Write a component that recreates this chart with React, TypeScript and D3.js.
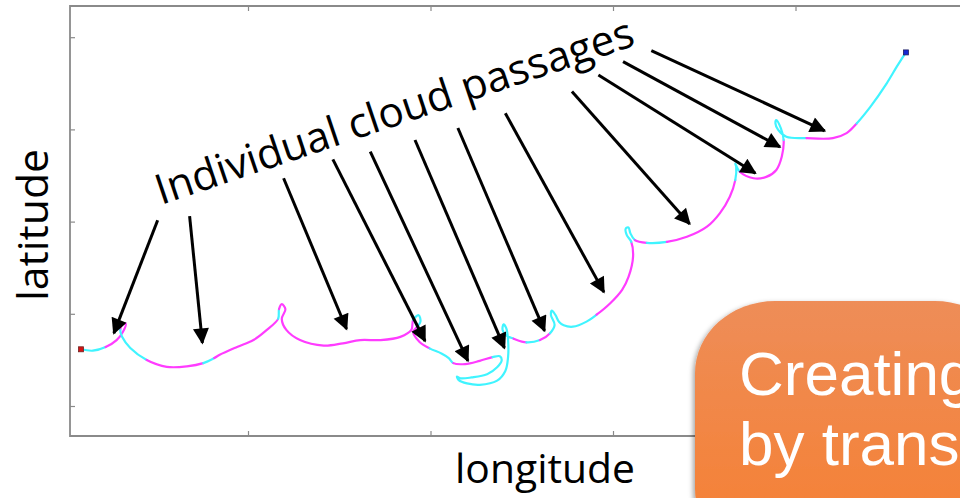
import * as d3 from "d3";
import React, { useEffect, useRef } from "react";

// flight track (degrees)
const trackLon = [
  -99.83, -99.7, -99.56, -99.44, -99.37, -99.34, -99.38, -99.4, -99.38, -99.29,
  -99.11, -98.89, -98.67, -98.49, -98.37, -98.31, -98.12, -97.94, -97.8, -97.67,
  -97.66, -97.63, -97.59, -97.63, -97.58, -97.43, -97.17, -96.96, -96.77, -96.55,
  -96.33, -96.21, -96.19, -96.13, -96.11, -96.15, -96.19, -96.12, -96.01, -95.88,
  -95.8, -95.75, -95.62, -95.46, -95.32, -95.24, -95.22, -95.27, -95.38, -95.55,
  -95.67, -95.71, -95.69, -95.6, -95.46, -95.27, -95.18, -95.15, -95.15, -95.17,
  -95.2, -95.21, -95.17, -95.09, -94.95, -94.8, -94.69, -94.64, -94.68, -94.67,
  -94.63, -94.59, -94.54, -94.44, -94.29, -94.18, -94.03, -93.9, -93.83, -93.78,
  -93.8, -93.85, -93.86, -93.83, -93.81, -93.76, -93.63, -93.41, -93.19, -92.97,
  -92.83, -92.72, -92.66, -92.65, -92.66, -92.61, -92.46, -92.32, -92.21, -92.15,
  -92.13, -92.16, -92.21, -92.22, -92.19, -92.1, -91.88, -91.59, -91.44, -91.33,
  -91.18, -91.0, -90.89, -90.79,
];
const trackLat = [
  31.23, 31.2, 31.28, 31.43, 31.61, 31.79, 31.76, 31.65, 31.5, 31.26,
  31.0, 30.85, 30.86, 30.93, 31.04, 31.11, 31.28, 31.43, 31.64, 31.89,
  32.1, 32.21, 32.1, 31.89, 31.65, 31.43, 31.31, 31.36, 31.43, 31.43,
  31.5, 31.65, 31.87, 31.97, 31.83, 31.71, 31.61, 31.39, 31.25, 31.14,
  31.04, 30.93, 30.91, 30.98, 31.06, 31.08, 30.99, 30.84, 30.69, 30.62,
  30.6, 30.64, 30.56, 30.49, 30.46, 30.55, 30.76, 31.06, 31.43, 31.69,
  31.77, 31.65, 31.53, 31.46, 31.38, 31.43, 31.58, 31.76, 31.97, 32.07,
  31.97, 31.82, 31.75, 31.72, 31.83, 31.98, 32.23, 32.52, 32.8, 33.24,
  33.56, 33.71, 33.85, 33.87, 33.75, 33.6, 33.54, 33.56, 33.67, 33.89,
  34.18, 34.54, 34.9, 35.19, 35.26, 35.08, 34.94, 34.97, 35.12, 35.41,
  35.77, 36.02, 36.2, 36.13, 35.99, 35.84, 35.81, 35.81, 35.92, 36.13,
  36.49, 37.0, 37.36, 37.67,
];
// 1 = in cloud (magenta), 0 = clear (cyan), for the segment starting at each point
const inCloud = [
  0, 0, 1, 1, 1, 1, 1, 0, 0, 0, 1, 1, 1, 0, 1, 1, 1, 1, 1, 0,
  1, 1, 1, 1, 1, 1, 1, 1, 1, 1, 1, 1, 0, 0, 0, 1, 1, 1, 0, 0,
  0, 1, 1, 1, 0, 0, 0, 0, 0, 0, 0, 0, 0, 0, 0, 0, 0, 0, 0, 0,
  0, 0, 0, 1, 0, 1, 0, 0, 0, 0, 0, 0, 0, 0, 0, 1, 1, 1, 1, 1,
  0, 0, 0, 0, 0, 1, 0, 1, 1, 1, 1, 1, 0, 0, 0, 1, 1, 1, 1, 1,
  0, 0, 0, 0, 0, 0, 1, 1, 1, 0, 0, 0, 0, 0,
];

// arrows: from the label to each cloud passage
const arrowFromLon = [-98.99, -98.64, -97.61, -97.07, -96.66, -96.17, -95.7, -95.18, -94.45, -94.16, -93.89, -93.58];
const arrowFromLat = [34.03, 34.12, 34.94, 35.35, 35.52, 35.77, 36.03, 36.35, 36.82, 37.18, 37.47, 37.71];
const arrowToLon = [-99.47, -98.5, -96.92, -96.06, -95.59, -95.19, -94.75, -94.1, -93.16, -92.44, -92.17, -91.68];
const arrowToLat = [31.58, 31.37, 31.67, 31.41, 30.98, 31.26, 31.63, 32.47, 33.95, 35.05, 35.62, 35.97];

const lonTicks = [-98, -96, -94, -92];
const latTicks = [30, 32, 34, 36, 38];

const W = 960;
const H = 498;
const frame = { left: 70, top: 6, bottom: 436, right: 1000 };

const x = d3.scaleLinear().domain([-100, -90]).range([65.5, 978]);
const y = d3.scaleLinear().domain([30, 38]).range([406, 37.2]);

const App = () => {
  const axRef = useRef(null);

  useEffect(() => {
    const g = d3.select(axRef.current);
    g.selectAll("*").remove();
    const blank = () => "";
    g.append("g")
      .attr("transform", `translate(0,${frame.bottom})`)
      .call(d3.axisBottom(x).tickValues(lonTicks).tickSize(-5).tickFormat(blank));
    g.append("g")
      .attr("transform", `translate(0,${frame.top})`)
      .call(d3.axisTop(x).tickValues(lonTicks).tickSize(-5).tickFormat(blank));
    g.append("g")
      .attr("transform", `translate(${frame.left},0)`)
      .call(d3.axisLeft(y).tickValues(latTicks).tickSize(-5).tickFormat(blank));
    g.selectAll(".domain").remove();
    g.selectAll(".tick line").attr("stroke", "#8a8a8a").attr("stroke-width", 1.2);
  }, []);

  const pts = trackLon.map((lo, i) => [x(lo), y(trackLat[i])]);
  const n = pts.length;

  // group segments into runs of the same state
  const runs = [];
  let start = 0;
  for (let i = 1; i < n - 1; i++) {
    if (inCloud[i] !== inCloud[start]) {
      runs.push({ a: start, b: i, c: inCloud[start] });
      start = i;
    }
  }
  runs.push({ a: start, b: n - 1, c: inCloud[start] });

  const openLine = d3.line().curve(d3.curveCatmullRomOpen.alpha(0.5));
  const runPath = (a, b) => {
    const p = [];
    p.push(pts[Math.max(a - 1, 0)]);
    for (let i = a; i <= b; i++) p.push(pts[i]);
    p.push(pts[Math.min(b + 1, n - 1)]);
    return openLine(p);
  };

  const font = "'Open Sans', 'DejaVu Sans', sans-serif";

  return (
    <svg
      width={W}
      height={H}
      style={{ position: "absolute", left: 0, top: 0, background: "#fff" }}
    >
      <defs>
        <marker
          id="ah"
          viewBox="0 0 10 10"
          refX="9"
          refY="5"
          markerWidth="20"
          markerHeight="16"
          markerUnits="userSpaceOnUse"
          orient="auto"
        >
          <path d="M0,0 L10,5 L0,10 z" fill="#000" />
        </marker>
        <linearGradient id="box" x1="0" y1="0" x2="0" y2="1">
          <stop offset="0" stopColor="#ee8d58" />
          <stop offset="1" stopColor="#f67f30" />
        </linearGradient>
        <filter id="shadow" x="-10%" y="-10%" width="130%" height="130%">
          <feDropShadow dx="-2" dy="2" stdDeviation="2.5" floodColor="#000" floodOpacity="0.35" />
        </filter>
      </defs>

      {/* frame */}
      <path
        d={`M${frame.right},${frame.top} H${frame.left} V${frame.bottom} H${frame.right}`}
        fill="none"
        stroke="#8a8a8a"
        strokeWidth={1.8}
      />
      <g ref={axRef} />

      {/* track */}
      <g fill="none" strokeWidth={2.2} strokeLinecap="round" strokeLinejoin="round">
        {runs.map((r, i) => (
          <path key={i} d={runPath(r.a, r.b)} stroke={r.c ? "#ff3cff" : "#40f4ff"} />
        ))}
      </g>
      <rect x={pts[0][0] - 2.5} y={pts[0][1] - 2.5} width={5} height={5} fill="#d21414" stroke="#702020" strokeWidth={0.8} />
      <rect x={pts[n - 1][0] - 2.5} y={pts[n - 1][1] - 2.5} width={5} height={5} fill="#1428d2" stroke="#202060" strokeWidth={0.8} />

      {/* arrows */}
      <g stroke="#000" strokeWidth={3}>
        {arrowFromLon.map((lo, i) => (
          <line
            key={i}
            x1={x(lo)}
            y1={y(arrowFromLat[i])}
            x2={x(arrowToLon[i])}
            y2={y(arrowToLat[i])}
            markerEnd="url(#ah)"
          />
        ))}
      </g>

      <text
        transform="translate(161,205) rotate(-18.6)"
        fontFamily={font}
        fontSize={42}
        textLength={502}
        lengthAdjust="spacingAndGlyphs"
        fill="#000"
      >
        Individual cloud passages
      </text>

      <text
        transform="translate(48,225) rotate(-90)"
        textAnchor="middle"
        fontFamily={font}
        fontSize={42}
        textLength={152}
        lengthAdjust="spacingAndGlyphs"
        fill="#000"
      >
        latitude
      </text>
      <text
        x={545}
        y={483}
        textAnchor="middle"
        fontFamily={font}
        fontSize={41}
        textLength={180}
        lengthAdjust="spacingAndGlyphs"
        fill="#000"
      >
        longitude
      </text>

      {/* orange callout, cut off by the slide edge */}
      <rect x={695} y={301} width={320} height={260} rx={80} ry={72} fill="url(#box)" filter="url(#shadow)" />
      <g fill="#fff" fontFamily="'Liberation Sans', Arial, sans-serif" fontSize={62}>
        <text x={739} y={395}>Creating</text>
        <text x={739} y={465}>by trans</text>
      </g>
    </svg>
  );
};

export default App;
